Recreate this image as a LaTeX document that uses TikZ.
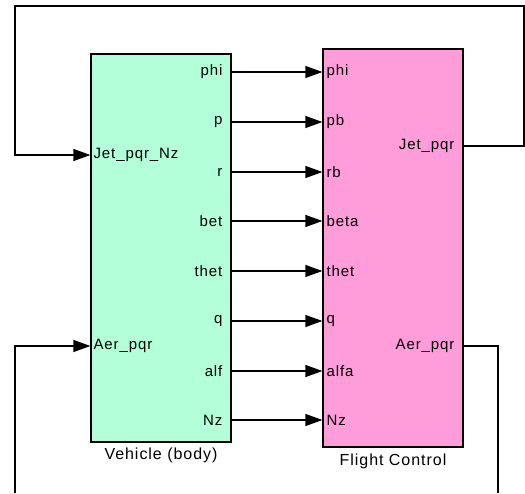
\documentclass[tikz,border=0pt]{standalone}
\usepackage{fontspec}
\setmainfont[LetterSpace=6]{Liberation Sans}
\usetikzlibrary{arrows.meta,positioning}

\definecolor{vehgreen}{RGB}{179,255,217}
\definecolor{fcpink}{RGB}{255,157,218}

\tikzset{
  blk/.style={draw, line width=1.2pt, minimum width=140pt, inner sep=0pt},
  port/.style={font=\fontsize{15}{17}\selectfont, inner sep=0pt},
  blkname/.style={font=\fontsize{16}{18}\selectfont, inner sep=0pt},
  sig/.style={line width=1.2pt, -{Triangle[length=17pt,width=12pt]}},
  wire/.style={line width=1.2pt}
}

\begin{document}
\begin{tikzpicture}[x=1pt,y=-1pt]
\useasboundingbox (0,0) rectangle (525,493);

% blocks
\node [blk, fill=vehgreen, minimum height=388pt] (veh) at (161,248) {};
\node [blk, fill=fcpink, minimum height=398pt] (fc) at (393,248) {};
\node [blkname, below=5pt of veh] (vehname) {Vehicle (body)};
\node [blkname, below=6pt of fc] (fcname) {Flight Control};

% signals between the blocks
\foreach \y/\a/\b [count=\n] in {72/phi/phi, 122/p/pb, 172/r/rb, 221/bet/beta,
    271/thet/thet, 321/q/q, 371/alf/alfa, 420/Nz/Nz} {
  \coordinate (h\n) at (0,\y);
  \coordinate (o\n) at (veh.east |- h\n);
  \coordinate (i\n) at (fc.west |- h\n);
  \node [port, anchor=east] (vout\n) at ([xshift=-9pt]o\n) {\a};
  \node [port, anchor=west] (fin\n) at ([xshift=4pt]i\n) {\b};
  \draw [sig] (o\n) -- (i\n);
}

% ports for the loops
\coordinate (hjet) at (0,155);
\coordinate (haer) at (0,346);
\coordinate (hjo) at (0,146);
\coordinate (vjet) at (veh.west |- hjet);
\coordinate (vaer) at (veh.west |- haer);
\coordinate (fjet) at (fc.east |- hjo);
\coordinate (faer) at (fc.east |- haer);
\node [port, anchor=west] (vjetlbl) at ([xshift=3pt]vjet) {Jet\_pqr\_Nz};
\node [port, anchor=west] (vaerlbl) at ([xshift=3pt]vaer) {Aer\_pqr};
\node [port, anchor=east] (fjetlbl) at ([xshift=-9pt]fjet) {Jet\_pqr};
\node [port, anchor=east] (faerlbl) at ([xshift=-9pt]faer) {Aer\_pqr};

\coordinate (topr) at (524,6);
\coordinate (topl) at (15,6);
\coordinate (botr) at (498,493);
\coordinate (botl) at (15,493);

% feedback lines
\draw [sig] (fjet) -- (topr |- fjet) -- (topr) -- (topl) -- (topl |- vjet) -- (vjet);
\draw [wire] (faer) -- (botr |- faer) -- (botr);
\draw [sig] (botl) -- (botl |- vaer) -- (vaer);

\end{tikzpicture}
\end{document}
